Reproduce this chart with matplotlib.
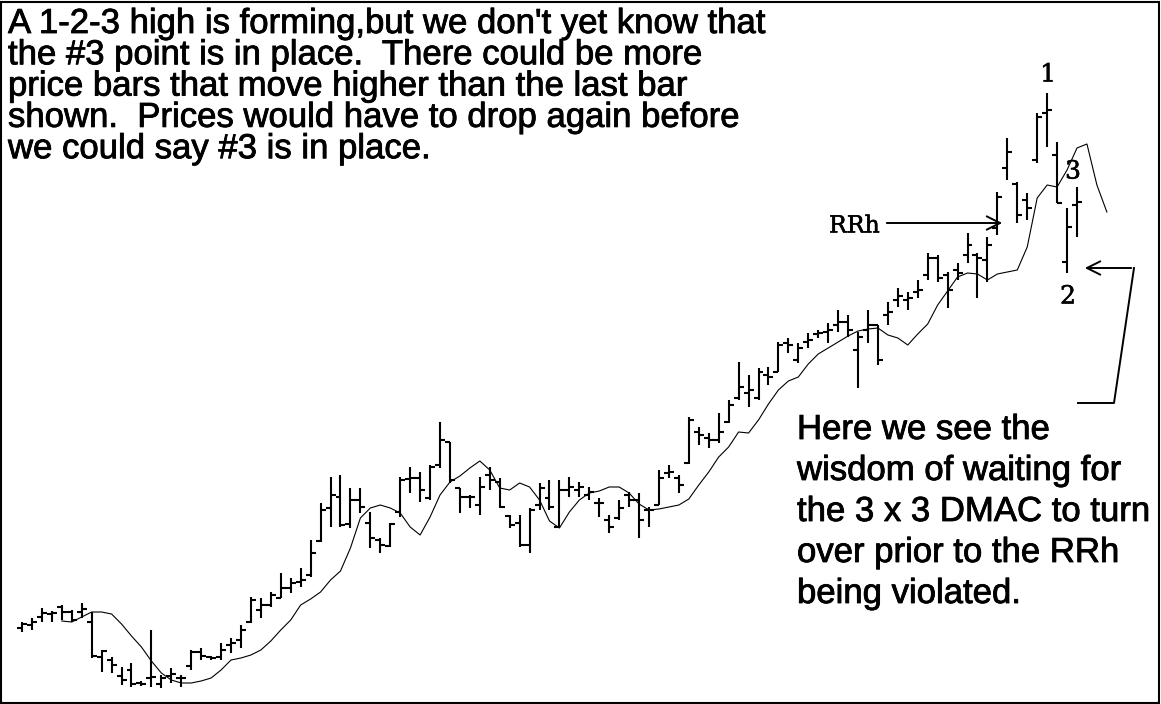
import numpy as np
import matplotlib.pyplot as plt
import matplotlib.patheffects as pe
from matplotlib.lines import Line2D
from matplotlib.patches import Rectangle

# daily OHLC bars (arbitrary price units)
highs = [78, 82, 92, 89, 95, 90, 97, 88, 50, 43, 33, 37, 19, 70, 25, 32, 25, 50, 52, 44,
         57, 62, 75, 103, 102, 108, 127, 122, 132, 160, 197, 223, 225, 212, 212, 188, 162, 177, 223, 233,
         228, 235, 278, 258, 212, 205, 223, 233, 222, 185, 185, 192, 217, 220, 220, 223, 218, 213, 202, 185,
         200, 208, 207, 193, 230, 235, 225, 283, 273, 267, 287, 300, 338, 325, 332, 333, 358, 362, 357, 367,
         370, 377, 390, 385, 368, 390, 375, 398, 412, 408, 420, 447, 445, 428, 437, 467, 447, 463, 508, 562,
         518, 507, 587, 607, 558, 492, 513]
lows = [68, 70, 78, 78, 80, 78, 82, 42, 28, 27, 15, 13, 14, 13, 12, 17, 13, 30, 40, 40,
        40, 47, 52, 77, 82, 93, 102, 107, 113, 123, 158, 173, 173, 172, 187, 152, 147, 153, 183, 207,
        198, 200, 232, 217, 187, 192, 185, 210, 192, 172, 153, 147, 190, 190, 172, 203, 203, 200, 183, 167,
        180, 193, 162, 173, 195, 222, 207, 236, 255, 252, 257, 277, 300, 293, 300, 315, 328, 347, 337, 352,
        362, 357, 368, 363, 312, 357, 335, 375, 393, 390, 402, 420, 418, 392, 420, 437, 402, 418, 465, 520,
        477, 480, 537, 553, 497, 427, 463]
opens = [72, 75, 83, 86, 93, 88, 88, 78, 43, 40, 24, 30, 17, 22, 16, 24, 22, 34, 48, 43,
         43, 55, 60, 78, 90, 95, 102, 112, 118, 125, 159, 192, 203, 176, 200, 177, 160, 154, 188, 221,
         222, 202, 235, 258, 212, 203, 195, 225, 218, 184, 177, 155, 195, 202, 173, 210, 210, 205, 197, 180,
         182, 205, 200, 190, 195, 227, 222, 237, 268, 262, 260, 278, 302, 307, 302, 325, 328, 357, 340, 358,
         366, 368, 375, 378, 350, 370, 375, 385, 400, 400, 408, 425, 442, 425, 430, 445, 445, 440, 472, 532,
         516, 500, 540, 587, 545, 438, 495]
closes = [76, 78, 87, 87, 88, 80, 91, 44, 49, 35, 20, 16, 16, 23, 22, 26, 22, 48, 44, 42,
          50, 57, 70, 100, 95, 105, 112, 117, 120, 147, 190, 205, 175, 200, 193, 162, 155, 176, 220, 222,
          210, 233, 260, 220, 203, 203, 213, 220, 193, 175, 155, 190, 212, 193, 210, 213, 213, 208, 197, 173,
          192, 200, 180, 190, 222, 228, 215, 280, 265, 260, 268, 295, 313, 310, 328, 323, 355, 355, 352, 360,
          367, 370, 378, 370, 363, 375, 340, 388, 404, 402, 410, 442, 422, 410, 427, 455, 442, 455, 503, 548,
          485, 492, 583, 590, 497, 473, 498]

# 3 x 3 DMAC line, starts at bar 4 and runs past the last bar
ma_start = 4
ma_values = [79, 78, 83, 88, 88, 86, 76, 64, 53, 39, 27, 20, 17, 17, 19, 22,
             30, 40, 42, 45, 50, 59, 70, 80, 95, 101, 108, 120, 129, 152, 182, 192, 195, 192, 187, 173,
             165, 183, 205, 218, 224, 232, 239, 230, 212, 210, 217, 213, 200, 179, 172, 188, 200, 207, 209, 213,
             213, 207, 196, 190, 191, 193, 195, 201, 215, 228, 243, 253, 268, 267, 280, 296, 310, 319, 323, 336,
             346, 352, 358, 364, 369, 371, 372, 365, 362, 355, 366, 376, 395, 409, 423, 427, 426, 420, 426, 428,
             430, 453, 502, 515, 513, 530, 552, 556, 515, 488]

top_text = ["A 1-2-3 high is forming,but we don't yet know that",
            "the #3 point is in place.  There could be more",
            "price bars that move higher than the last bar",
            "shown.  Prices would have to drop again before",
            "we could say #3 is in place."]
side_text = ["Here we see the",
             "wisdom of waiting for",
             "the 3 x 3 DMAC to turn",
             "over prior to the RRh",
             "being violated."]

W, H = 1161, 704
fig = plt.figure(figsize=(W / 100, H / 100), dpi=100)
ax = fig.add_axes([0, 0, 1, 1])
ax.set_xlim(-2.21, 114.44)
ax.set_ylim(-4, 700)
ax.axis('off')

x = np.arange(len(highs))
ax.vlines(x, lows, highs, color='black', lw=1.5)
ax.hlines(opens, x - 0.5, x, color='black', lw=1.5)
ax.hlines(closes, x, x + 0.5, color='black', lw=1.5)

ma_x = np.arange(ma_start, ma_start + len(ma_values))
ax.plot(ma_x, ma_values, color='black', lw=0.8)

# text blocks, placed in pixels from the top-left corner
heavy = [pe.withStroke(linewidth=0.6, foreground='black')]
for k, line in enumerate(top_text):
    fig.text(8 / W, 1 - (33 + 31.3 * k) / H, line, fontsize=25, family='Liberation Sans',
             va='baseline', ha='left', path_effects=heavy)
for k, line in enumerate(side_text):
    fig.text(797 / W, 1 - (439 + 41 * k) / H, line, fontsize=25, family='Liberation Sans',
             va='baseline', ha='left', path_effects=heavy)

serif = 'DejaVu Serif'
light = [pe.withStroke(linewidth=0.4, foreground='black')]
fig.text(1048 / W, 1 - 75 / H, '1', fontsize=18, family=serif, ha='center', va='center', path_effects=light)
fig.text(1073 / W, 1 - 172 / H, '3', fontsize=18, family=serif, ha='center', va='center', path_effects=light)
fig.text(1068 / W, 1 - 297 / H, '2', fontsize=18, family=serif, ha='center', va='center', path_effects=light)
fig.text(829 / W, 1 - 226 / H, 'RRh', fontsize=17, family=serif, ha='left', va='center', path_effects=light)

arrow = dict(arrowstyle='->', lw=1.4, color='black', mutation_scale=24)
ax.annotate('', xy=(1005, H - 223), xytext=(884, H - 223), xycoords='figure pixels',
            textcoords='figure pixels', arrowprops=arrow)
ax.annotate('', xy=(1082, H - 268), xytext=(1134, H - 268), xycoords='figure pixels',
            textcoords='figure pixels', arrowprops=arrow)
fig.add_artist(Line2D([1078 / W, 1114 / W, 1134 / W], [1 - 403 / H, 1 - 403 / H, 1 - 268 / H],
                      transform=fig.transFigure, color='black', lw=1.4))

fig.add_artist(Rectangle((1 / W, 1 / H), 1 - 3 / W, 1 - 3 / H, transform=fig.transFigure,
                         fill=False, lw=1.5, edgecolor='black'))

fig.savefig('out.png', dpi=100, facecolor='white')
